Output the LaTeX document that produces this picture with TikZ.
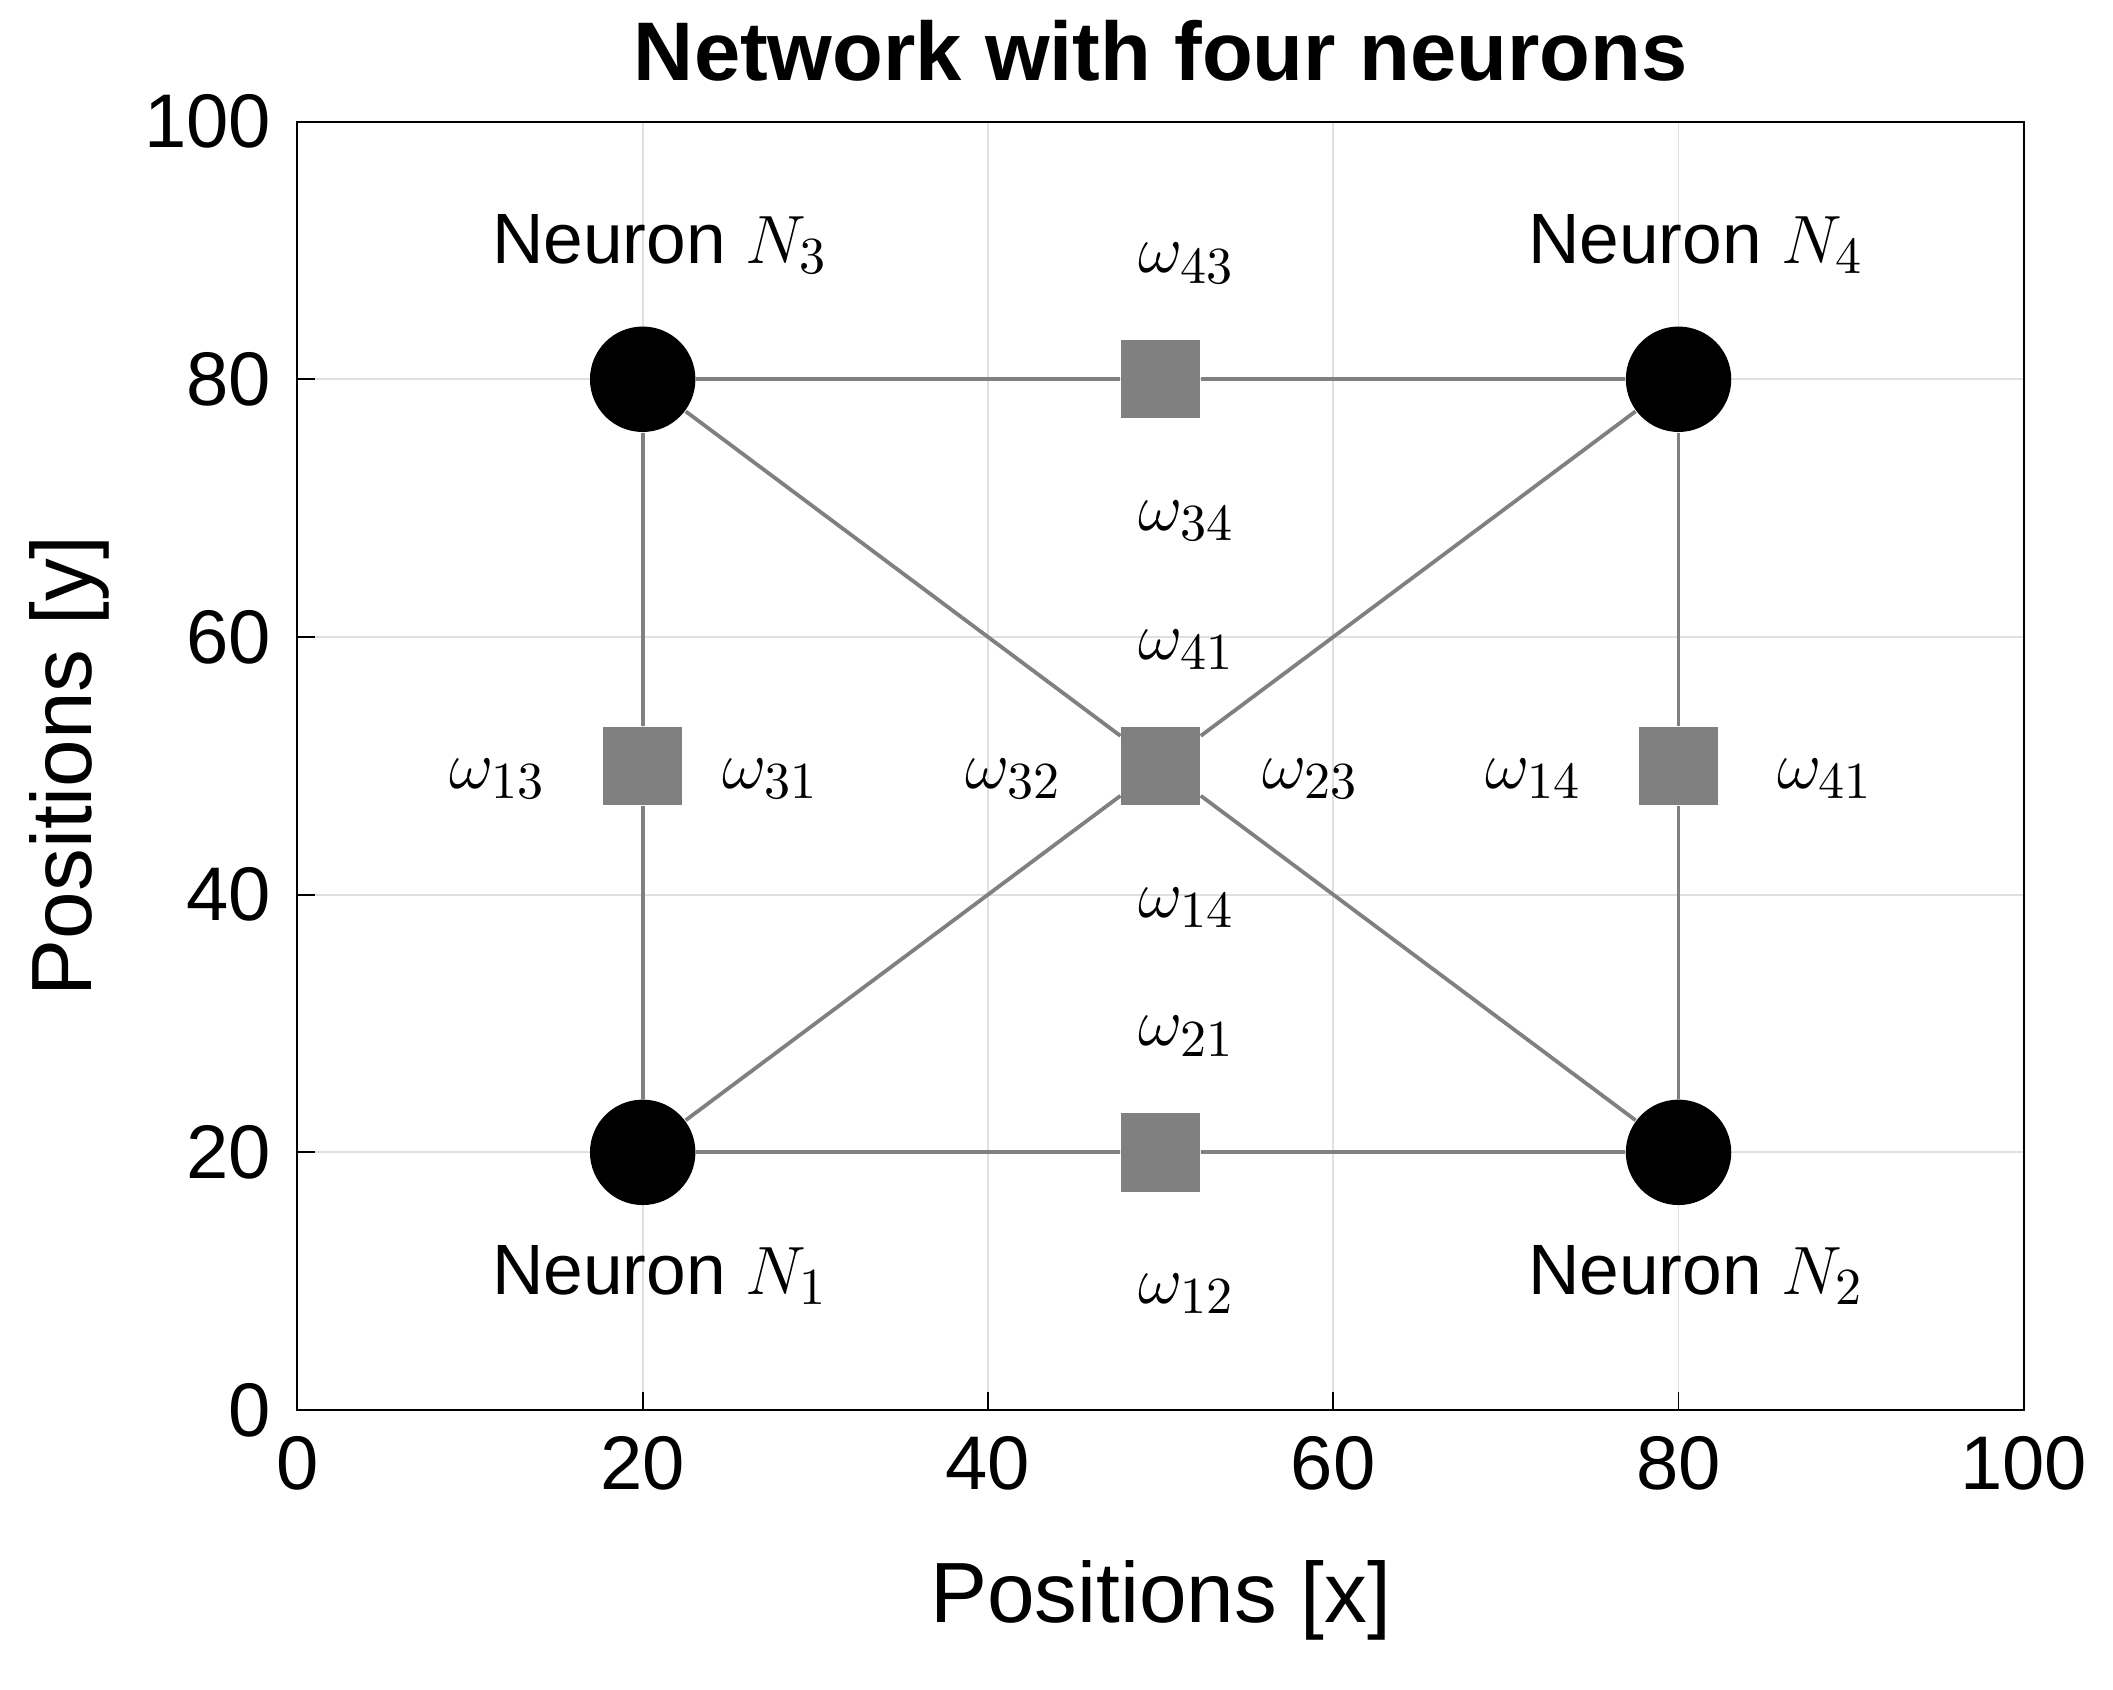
\documentclass[tikz,border=0pt]{standalone}
\usepackage{fontspec}
\setmainfont{Liberation Sans}
\begin{document}
\begin{tikzpicture}[x=0.1277cm,y=0.0953cm,
  neuron/.style={circle,fill=black,minimum size=0.78cm,inner sep=0pt},
  synapse/.style={rectangle,fill=gray,minimum size=0.58cm,inner sep=0pt},
  link/.style={draw=gray,line width=0.8pt},
  lbl/.style={font=\fontsize{15}{18}\selectfont},
  tick/.style={font=\fontsize{16}{19}\selectfont}]
\useasboundingbox ([shift={(-2.20cm,-2.07cm)}]0,0) rectangle ([shift={(13.43cm,10.43cm)}]0,0);
\draw[step=20,color=black!12] (0,0) grid (100,100);
\draw[black] (0,0) rectangle (100,100);
% ticks and labels
\foreach \v in {0,20,...,100} {
  \draw (\v,0) -- ++(0,0.13cm);
  \draw (0,\v) -- ++(0.13cm,0);
  \node[tick,below=2pt] at (\v,0) {\v};
  \node[tick,left=2pt] at (0,\v) {\v};
}
\node[font=\bfseries\fontsize{17.5}{20}\selectfont] at (50,105.5) {Network with four neurons};
\node[font=\fontsize{18}{21}\selectfont] at (50,-14.8) {Positions [x]};
\node[font=\fontsize{18}{21}\selectfont,rotate=90] at (-13.2,50) {Positions [y]};
% synapses
\node[synapse] (s12) at (50,20) {};
\node[synapse] (s34) at (50,80) {};
\node[synapse] (s13) at (20,50) {};
\node[synapse] (s24) at (80,50) {};
\node[synapse] (sx) at (50,50) {};
% neurons
\node[neuron] (n1) at (20,20) {};
\node[neuron] (n2) at (80,20) {};
\node[neuron] (n3) at (20,80) {};
\node[neuron] (n4) at (80,80) {};
\draw[link] (n1) -- (s12) -- (n2);
\draw[link] (n3) -- (s34) -- (n4);
\draw[link] (n1) -- (s13) -- (n3);
\draw[link] (n2) -- (s24) -- (n4);
\draw[link] (n1) -- (sx) -- (n4);
\draw[link] (n3) -- (sx) -- (n2);
% labels
\node[lbl] (l3) at (21,90.5) {Neuron $N_3$};
\node[lbl] (l4) at (81,90.5) {Neuron $N_4$};
\node[lbl] (l1) at (21,10.5) {Neuron $N_1$};
\node[lbl] (l2) at (81,10.5) {Neuron $N_2$};
\node[lbl] (w43) at (51.5,89) {$\omega_{43}$};
\node[lbl] (w34) at (51.5,69) {$\omega_{34}$};
\node[lbl] (w41a) at (51.5,59) {$\omega_{41}$};
\node[lbl] (w14a) at (51.5,39) {$\omega_{14}$};
\node[lbl] (w21) at (51.5,29) {$\omega_{21}$};
\node[lbl] (w12) at (51.5,9) {$\omega_{12}$};
\node[lbl] (w13) at (11.6,49) {$\omega_{13}$};
\node[lbl] (w31) at (27.4,49) {$\omega_{31}$};
\node[lbl] (w32) at (41.5,49) {$\omega_{32}$};
\node[lbl] (w23) at (58.7,49) {$\omega_{23}$};
\node[lbl] (w14b) at (71.6,49) {$\omega_{14}$};
\node[lbl] (w41b) at (88.5,49) {$\omega_{41}$};
\end{tikzpicture}
\end{document}
